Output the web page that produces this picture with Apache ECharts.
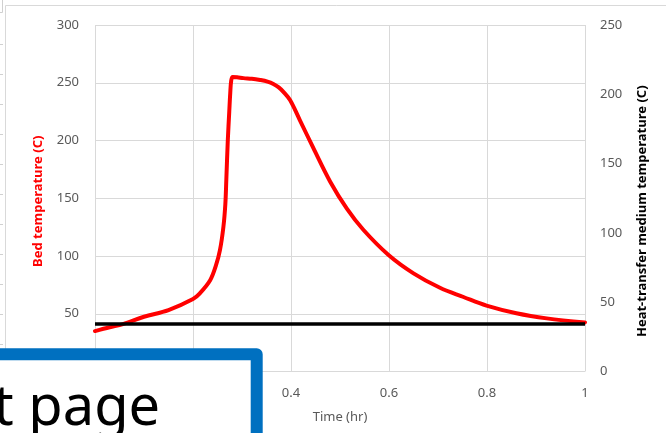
<!DOCTYPE html>
<html>
<head>
<meta charset="utf-8">
<script src="https://cdn.jsdelivr.net/npm/echarts@6/dist/echarts.min.js"></script>
<style>
  html, body { margin: 0; padding: 0; background: #fff; }
  #chart { width: 666px; height: 433px; }
</style>
</head>
<body>
<div id="chart"></div>
<script>
// Bed temperature over one hour of operation (time in hours, temperature in C)
const timeHr = [0, 0.03, 0.057, 0.1, 0.15, 0.2, 0.214, 0.235, 0.247, 0.255, 0.262, 0.266, 0.268,
  0.271, 0.274, 0.276, 0.278, 0.281, 0.29, 0.303, 0.32, 0.337, 0.352, 0.364, 0.375, 0.384,
  0.398, 0.418, 0.445, 0.48, 0.514, 0.548, 0.599, 0.65, 0.704, 0.752, 0.799, 0.86,
  0.922, 1.0];
const bedTemp = [35, 38.3, 41, 47.4, 53.2, 62.8, 67.7, 79, 92, 105, 125, 145, 166,
  200, 225, 241, 252, 255, 254.8, 254, 253.5, 252.4, 251, 249, 246, 242.3,
  235, 217.7, 194, 164.3, 141, 122.5, 100.9, 85, 72.5, 64.5, 57, 50.4,
  46, 42.5];

// Heat-transfer medium held at a constant temperature (right axis)
const mediumTime = [0, 1];
const mediumTemp = [34.2, 34.2];

const xTicks = [0, 0.2, 0.4, 0.6, 0.8, 1];
const leftTicks = [0, 50, 100, 150, 200, 250, 300];
const rightTicks = [0, 50, 100, 150, 200, 250];

const FONT = 'Noto Sans';
const grey = '#595959';
const gridColor = '#d9d9d9';

const chart = echarts.init(document.getElementById('chart'), null, { renderer: 'canvas' });

// Small marks along the left edge of the frame
const edgeMarks = [];
for (let i = 0; i < 11; i++) {
  const y = 44.5 + i * 30;
  edgeMarks.push({
    type: 'line', silent: true, z: 1,
    shape: { x1: 0, y1: y, x2: 3, y2: y },
    style: { stroke: '#d0d0d0', lineWidth: 1 }
  });
}

chart.setOption({
  backgroundColor: '#fff',
  animation: false,
  textStyle: { fontFamily: FONT },
  grid: { left: 95, right: 81, top: 25, bottom: 61.5, containLabel: false },
  xAxis: {
    type: 'value', min: xTicks[0], max: xTicks[xTicks.length - 1], interval: 0.2,
    name: 'Time (hr)', nameLocation: 'middle', nameGap: 39,
    nameTextStyle: { color: grey, fontSize: 13, fontFamily: FONT },
    axisLine: { show: false }, axisTick: { show: false },
    axisLabel: { color: grey, fontSize: 13, margin: 15, fontFamily: FONT,
      formatter: v => String(+v.toFixed(1)) },
    splitLine: { show: true, lineStyle: { color: gridColor, width: 1 } }
  },
  yAxis: [
    {
      type: 'value', min: leftTicks[0], max: leftTicks[leftTicks.length - 1], interval: 50,
      position: 'left',
      name: 'Bed temperature (C)', nameLocation: 'middle', nameGap: 50, nameRotate: 90,
      nameTextStyle: { color: '#ff0000', fontSize: 13, fontWeight: 'bold', fontFamily: FONT,
        padding: [0, 6, 0, 0] },
      axisLine: { show: false }, axisTick: { show: false },
      axisLabel: { color: grey, fontSize: 13, margin: 16, fontFamily: FONT },
      splitLine: { show: true, lineStyle: { color: gridColor, width: 1 } }
    },
    {
      type: 'value', min: rightTicks[0], max: rightTicks[rightTicks.length - 1], interval: 50,
      position: 'right',
      name: 'Heat-transfer medium temperature (C)', nameLocation: 'middle', nameGap: 51, nameRotate: 90,
      nameTextStyle: { color: '#000', fontSize: 13, fontWeight: 'bold', fontFamily: FONT,
        padding: [0, 26, 0, 0] },
      axisLine: { show: false }, axisTick: { show: false },
      axisLabel: { color: grey, fontSize: 13, margin: 15, fontFamily: FONT },
      splitLine: { show: false }
    }
  ],
  series: [
    {
      type: 'line', yAxisIndex: 0, z: 3,
      data: timeHr.map((t, i) => [t, bedTemp[i]]),
      showSymbol: false, smooth: 0.35,
      lineStyle: { color: '#ff0000', width: 4, join: 'round', cap: 'round' }
    },
    {
      type: 'line', yAxisIndex: 1, z: 4,
      data: mediumTime.map((t, i) => [t, mediumTemp[i]]),
      showSymbol: false,
      lineStyle: { color: '#000', width: 3.5 }
    }
  ],
  graphic: [
    // chart frame
    { type: 'polyline', silent: true, z: 1,
      shape: { points: [[5.5, 440], [5.5, 5.5], [670, 5.5]] },
      style: { stroke: '#d9d9d9', lineWidth: 1, fill: null } },
    { type: 'polyline', silent: true, z: 1,
      shape: { points: [[2.5, 0], [2.5, 12.5], [0, 12.5]] },
      style: { stroke: '#d0d0d0', lineWidth: 1, fill: null } },
    ...edgeMarks,
    // overlapping text box
    { type: 'rect', silent: true, z: 100,
      shape: { x: -20, y: 354.3, width: 276.7, height: 200, r: 0 },
      style: { fill: '#fff', stroke: '#0070c0', lineWidth: 12, lineJoin: 'round' } },
    { type: 'text', silent: true, z: 101, x: -6.5, y: 409,
      style: { text: 't page', fill: '#000', fontSize: 56, fontFamily: FONT,
        verticalAlign: 'middle', align: 'left' } }
  ]
});
</script>
</body>
</html>
